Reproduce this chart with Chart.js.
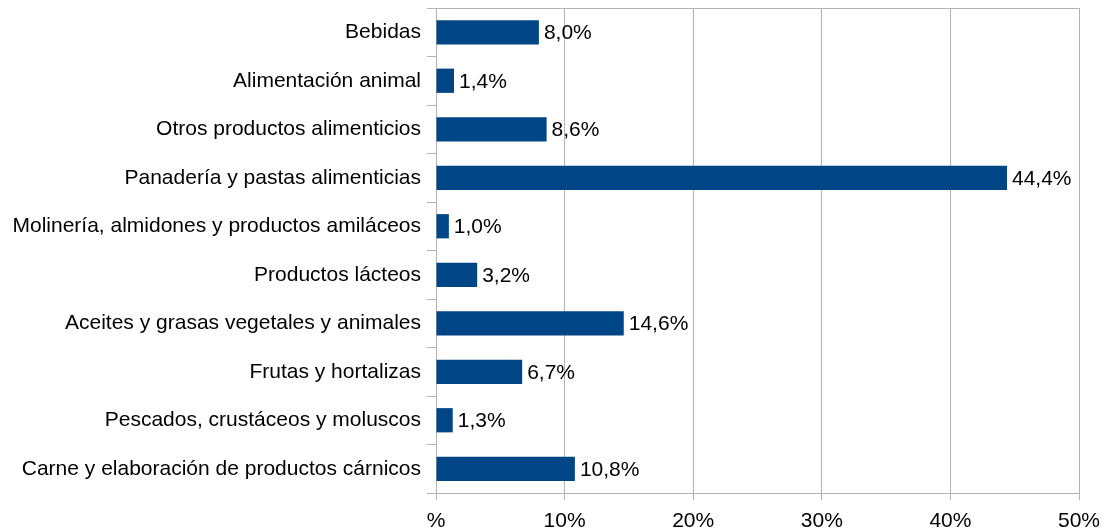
<!DOCTYPE html>
<html>
<head>
<meta charset="utf-8">
<script src="https://cdn.jsdelivr.net/npm/chart.js@4/dist/chart.umd.min.js"></script>
<style>
  html, body { margin: 0; padding: 0; background: #fff; }
  #wrap { width: 1106px; height: 531px; position: relative; }
</style>
</head>
<body>
<div id="wrap"><canvas id="chart"></canvas></div>
<script>
const categories = [
  "Bebidas",
  "Alimentación animal",
  "Otros productos alimenticios",
  "Panadería y pastas alimenticias",
  "Molinería, almidones y productos amiláceos",
  "Productos lácteos",
  "Aceites y grasas vegetales y animales",
  "Frutas y hortalizas",
  "Pescados, crustáceos y moluscos",
  "Carne y elaboración de productos cárnicos"
];
const shares = [8.0, 1.4, 8.6, 44.4, 1.0, 3.2, 14.6, 6.7, 1.3, 10.8];
const tickLabels = ["%", "10%", "20%", "30%", "40%", "50%"];

const gridGrey = '#b3b3b3';
const font = { family: "'Liberation Sans', Arial, sans-serif", size: 21 };

function fmt(v) {
  return v.toFixed(1).replace('.', ',') + '%';
};

const valueLabels = {
  id: 'valueLabels',
  afterDatasetsDraw(chart) {
    const ctx = chart.ctx;
    const meta = chart.getDatasetMeta(0);
    ctx.save();
    ctx.font = font.size + 'px ' + font.family;
    ctx.fillStyle = '#000';
    ctx.textAlign = 'left';
    ctx.textBaseline = 'middle';
    meta.data.forEach(function(bar, i) {
      ctx.fillText(fmt(shares[i]), bar.x + 5, bar.y + 1);
    });
    ctx.restore();
  }
};

new Chart(document.getElementById('chart'), {
  type: 'bar',
  data: {
    labels: categories,
    datasets: [{
      data: shares,
      backgroundColor: '#004586',
      borderWidth: 0,
      barPercentage: 0.5,
      categoryPercentage: 1.0
    }]
  },
  options: {
    indexAxis: 'y',
    responsive: true,
    maintainAspectRatio: false,
    animation: false,
    layout: { padding: { top: 8, right: 27, left: 0, bottom: 0 } },
    plugins: {
      legend: { display: false },
      tooltip: { enabled: false }
    },
    scales: {
      x: {
        min: 0,
        max: 50,
        afterFit: function(scale) {
          scale.height = 38;
          scale.paddingLeft = 0;
          scale.paddingRight = 0;
        },
        ticks: {
          stepSize: 10,
          color: '#000',
          font: font,
          padding: 9,
          maxRotation: 0,
          callback: function(v, i) { return tickLabels[i]; }
        },
        grid: {
          color: gridGrey,
          tickColor: gridGrey,
          tickLength: 7,
          lineWidth: 1
        },
        border: { color: gridGrey }
      },
      y: {
        afterFit: function(scale) {
          scale.width = 436;
          scale.paddingTop = 0;
          scale.paddingBottom = 0;
        },
        ticks: {
          color: '#000',
          font: font,
          padding: 6
        },
        grid: {
          offset: true,
          tickLength: 9,
          tickColor: gridGrey,
          color: function(c) {
            return (c.index === 0 || c.index === categories.length) ? gridGrey : 'rgba(0,0,0,0)';
          }
        },
        border: { color: gridGrey }
      }
    }
  },
  plugins: [valueLabels]
});
</script>
</body>
</html>
